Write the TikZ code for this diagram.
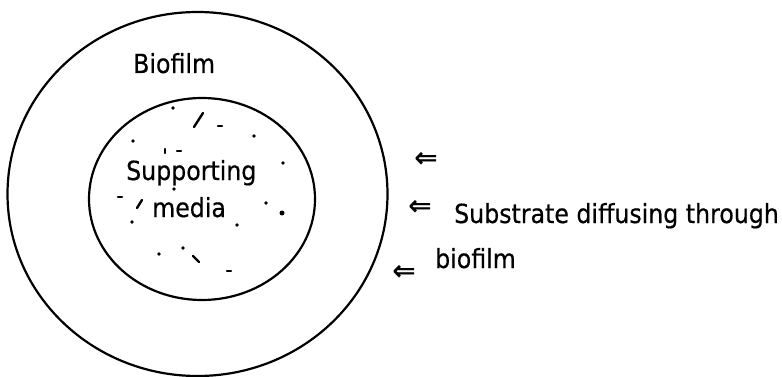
\documentclass[tikz,border=0pt]{standalone}
\usepackage{fontspec}
\setmainfont[FakeStretch=0.9,FakeBold=0.5]{DejaVu Sans}
\newfontfamily\arrfont{DejaVu Sans}
\begin{document}
\begin{tikzpicture}[x=1pt,y=-1pt,
  ring/.style={draw=black,line width=2.2pt},
  lbl/.style={anchor=base west,inner sep=0pt,font=\fontsize{26.3}{28}\selectfont},
  arr/.style={anchor=center,inner sep=0pt,font=\arrfont\fontsize{28}{30}\selectfont\bfseries},
  speck/.style={fill=black,draw=none},
  flake/.style={line width=2.4pt,line cap=round}]
\useasboundingbox (0,0) rectangle (782,377);
% rings
\draw[ring] (197.5,194) ellipse [x radius=190, y radius=182];
\draw[ring] (202,199) ellipse [x radius=113, y radius=101];
% labels
\node[lbl] (biofilmlbl) at (133,73) {Biofilm};
\node[lbl] (supp) at (126,180) {Supporting};
\node[lbl] (media) at (152,217) {media};
\node[lbl] (subs) at (454,223) {Substrate diffusing through};
\node[lbl] (bio2) at (435,268) {biofilm};
% arrows
\node[arr] (a1) at (426,160) {⇐};
\node[arr] (a2) at (420,208) {⇐};
\node[arr] (a3) at (404,273) {⇐};
% specks in the supporting media
\foreach \p in {(173,108),(254,136),(133,141),(283,163),(174,189),(266,203),(132,222),(237,225),(159,254),(183,248)}
  \fill[speck] \p circle (1.8);
\fill[speck] (282,213) circle (2.5);
\draw[flake] (194,127) -- (203,113);
\draw[flake] (218,126) -- (222,126);
\draw[flake] (165,149) -- (165,153);
\draw[flake] (177,151) -- (181,151);
\draw[flake] (118,197) -- (122,197);
\draw[flake] (137,208) -- (142,200);
\draw[flake] (193,256) -- (199,262);
\draw[flake] (227,271) -- (231,271);
\end{tikzpicture}
\end{document}
